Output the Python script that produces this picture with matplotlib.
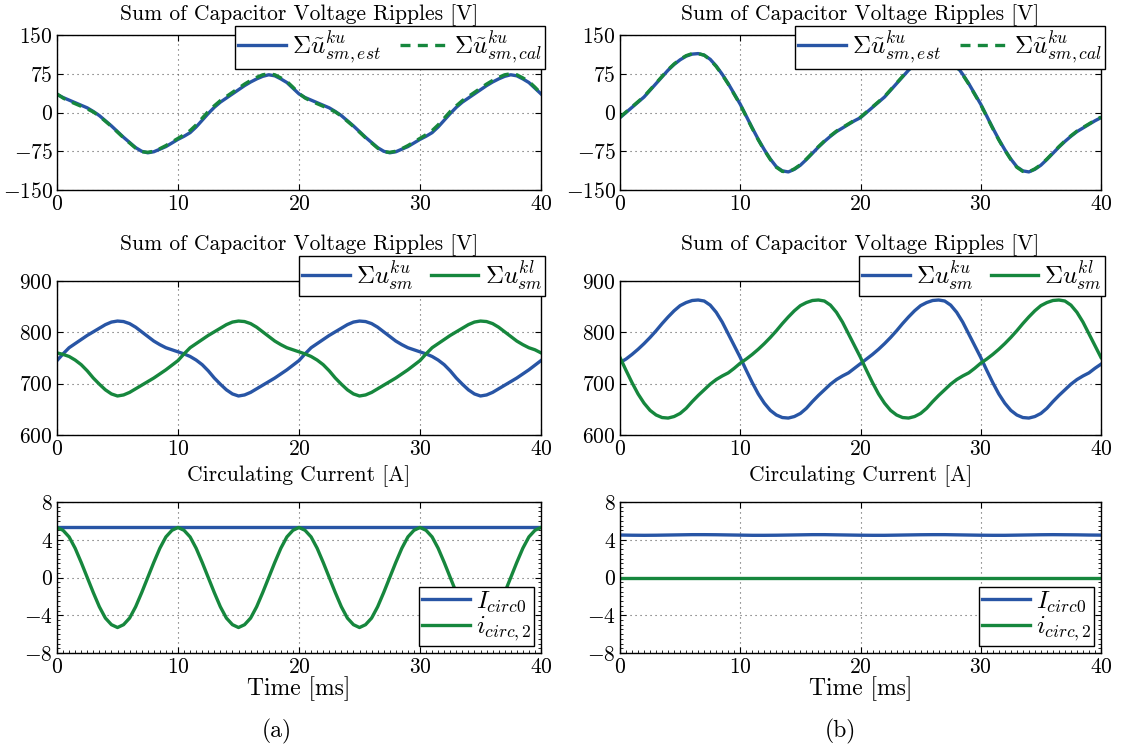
import matplotlib
matplotlib.use('Agg')
import matplotlib.pyplot as plt
from matplotlib.ticker import MultipleLocator

plt.rcParams.update({
    'font.family': 'cmr10',
    'mathtext.fontset': 'cm',
    'axes.formatter.use_mathtext': True,
    'font.size': 15,
})

# ---------------- data ----------------
t_ms = list(range(0, 41))                       # 1 ms steps
t_half = [i * 0.5 for i in range(0, 81)]        # 0.5 ms steps

x_ticks = [0, 10, 20, 30, 40]
ripple_ticks = [-150, -75, 0, 75, 150]
voltage_ticks = [600, 700, 800, 900]
current_ticks = [-8, -4, 0, 4, 8]

# (a) top: sum of capacitor voltage ripples [V], 0.5 ms steps
a_ripple_est = [35, 29, 24, 19, 14, 9, 2, -6, -16, -26, -37, -48, -58, -68, -75, -78, -76, -71, -66, -59,
                -52, -46, -39, -28, -15, -2, 10, 20, 28, 36, 44, 52, 59, 65, 70, 73, 71, 65, 58, 47,
                36, 29, 24, 19, 14, 9, 2, -6, -16, -26, -37, -48, -58, -68, -75, -78, -76, -71, -66, -59,
                -52, -46, -39, -28, -15, -2, 10, 20, 28, 36, 44, 52, 59, 65, 70, 73, 71, 65, 58, 47, 36]
a_ripple_cal = [36, 28, 22, 17, 12, 7, 1, -7, -17, -27, -38, -49, -59, -69, -76, -77, -75, -70, -64, -57,
                -50, -43, -35, -24, -11, 2, 13, 23, 31, 39, 47, 55, 62, 68, 73, 75, 73, 67, 60, 49,
                37, 28, 22, 17, 12, 7, 1, -7, -17, -27, -38, -49, -59, -69, -76, -77, -75, -70, -64, -57,
                -50, -43, -35, -24, -11, 2, 13, 23, 31, 39, 47, 55, 62, 68, 73, 75, 73, 67, 60, 49, 37]
# (b) top
b_ripple_est = [-10, 0, 10, 20, 30, 43, 56, 69, 82, 93, 102, 109, 113, 114, 111, 103, 90, 74, 56, 36,
                16, -7, -30, -52, -72, -90, -105, -113, -115, -110, -102, -91, -79, -67, -56, -46, -37, -30, -23, -16,
                -10, 0, 10, 20, 30, 43, 56, 69, 82, 93, 102, 109, 113, 114, 111, 103, 90, 74, 56, 36,
                16, -7, -30, -52, -72, -90, -105, -113, -115, -110, -102, -91, -79, -67, -56, -46, -37, -30, -23, -16, -10]
b_ripple_cal = [-9, 1, 11, 21, 31, 44, 57, 70, 83, 94, 103, 110, 114, 114, 111, 102, 89, 73, 55, 35,
                15, -8, -31, -53, -73, -91, -106, -114, -115, -109, -101, -90, -78, -66, -55, -45, -36, -29, -22, -15,
                -9, 1, 11, 21, 31, 44, 57, 70, 83, 94, 103, 110, 114, 114, 111, 102, 89, 73, 55, 35,
                15, -8, -31, -53, -73, -91, -106, -114, -115, -109, -101, -90, -78, -66, -55, -45, -36, -29, -22, -15, -9]

# (a) middle: upper / lower arm capacitor voltage sums [V], 0.5 ms steps
a_u_ku = [745, 758, 770, 778, 786, 794, 801, 808, 815, 820, 822, 821, 817, 810, 801, 792, 783, 776, 770, 766,
          762, 758, 753, 746, 737, 725, 711, 699, 688, 680, 676, 678, 683, 690, 697, 704, 711, 719, 727, 736,
          745, 758, 770, 778, 786, 794, 801, 808, 815, 820, 822, 821, 817, 810, 801, 792, 783, 776, 770, 766,
          762, 758, 753, 746, 737, 725, 711, 699, 688, 680, 676, 678, 683, 690, 697, 704, 711, 719, 727, 736, 745]
a_u_kl = [760, 757, 753, 746, 737, 725, 711, 699, 688, 680, 676, 678, 683, 690, 697, 704, 711, 719, 727, 736,
          745, 758, 770, 778, 786, 794, 801, 808, 815, 820, 822, 821, 817, 810, 801, 792, 783, 776, 770, 766,
          762, 758, 753, 746, 737, 725, 711, 699, 688, 680, 676, 678, 683, 690, 697, 704, 711, 719, 727, 736,
          745, 758, 770, 778, 786, 794, 801, 808, 815, 820, 822, 821, 817, 810, 801, 792, 783, 776, 770, 766, 760]
# (b) middle
b_u_ku = [741, 748, 757, 767, 778, 790, 803, 817, 830, 842, 852, 858, 862, 863, 861, 853, 839, 820, 797, 774,
          751, 726, 702, 680, 662, 648, 639, 634, 633, 636, 642, 652, 665, 677, 688, 699, 708, 715, 721, 730,
          739, 748, 757, 767, 778, 790, 803, 817, 830, 842, 852, 858, 862, 863, 861, 853, 839, 820, 797, 774,
          751, 726, 702, 680, 662, 648, 639, 634, 633, 636, 642, 652, 665, 677, 688, 699, 708, 715, 721, 730, 738]
b_u_kl = [751, 726, 702, 680, 662, 648, 639, 634, 633, 636, 642, 652, 665, 677, 688, 699, 708, 715, 721, 730,
          740, 748, 757, 767, 778, 790, 803, 817, 830, 842, 852, 858, 862, 863, 861, 853, 839, 820, 797, 774,
          751, 726, 702, 680, 662, 648, 639, 634, 633, 636, 642, 652, 665, 677, 688, 699, 708, 715, 721, 730,
          740, 748, 757, 767, 778, 790, 803, 817, 830, 842, 852, 858, 862, 863, 861, 853, 839, 820, 797, 774, 751]

# (a) bottom: circulating current [A]
a_i_circ0 = [5.3] * 41
a_i_circ2 = [5.3, 5.0, 4.3, 3.1, 1.6, 0.0, -1.6, -3.1, -4.3, -5.0, -5.3, -5.0, -4.3, -3.1, -1.6, 0.0, 1.6, 3.1, 4.3, 5.0,
             5.3, 5.0, 4.3, 3.1, 1.6, 0.0, -1.6, -3.1, -4.3, -5.0, -5.3, -5.0, -4.3, -3.1, -1.6, 0.0, 1.6, 3.1, 4.3, 5.0,
             5.3, 5.0, 4.3, 3.1, 1.6, 0.0, -1.6, -3.1, -4.3, -5.0, -5.3, -5.0, -4.3, -3.1, -1.6, 0.0, 1.6, 3.1, 4.3, 5.0,
             5.3, 5.0, 4.3, 3.1, 1.6, 0.0, -1.6, -3.1, -4.3, -5.0, -5.3, -5.0, -4.3, -3.1, -1.6, 0.0, 1.6, 3.1, 4.3, 5.0,
             5.3]
# (b) bottom
b_i_circ0 = [4.50, 4.48, 4.47, 4.48, 4.50, 4.52, 4.54, 4.54, 4.53, 4.51, 4.49, 4.47, 4.47, 4.48, 4.50, 4.52, 4.54, 4.54,
             4.52, 4.50, 4.48, 4.47, 4.47, 4.49, 4.51, 4.53, 4.54, 4.54, 4.52, 4.50, 4.48, 4.47, 4.47, 4.49, 4.51, 4.53,
             4.54, 4.53, 4.52, 4.50, 4.49]
b_i_circ2 = [-0.05] * 41

BLUE = '#2855a5'
GREEN = '#16873d'
LW = 2.4

fig = plt.figure(figsize=(11.27, 7.51), dpi=100)
W, H = 1127, 751


def add_axes(x0, x1, y0, y1):
    return fig.add_axes([x0 / W, 1 - y1 / H, (x1 - x0) / W, (y1 - y0) / H])


def mlab(v):
    return f'${v}$'


def style(ax, yticks, ylim, minor=False):
    ax.set_xlim(0, 40)
    ax.set_ylim(*ylim)
    ax.set_xticks(x_ticks)
    ax.set_xticklabels([mlab(v) for v in x_ticks])
    ax.set_yticks(yticks)
    ax.set_yticklabels([mlab(v) for v in yticks])
    ax.grid(True, linestyle=(0, (1, 3.5)), color='0.35', linewidth=0.8)
    ax.tick_params(direction='in', top=True, right=True, length=4, width=0.8,
                   labelsize=15.5, pad=3, colors='black')
    if minor:
        ax.xaxis.set_minor_locator(MultipleLocator(0.5))
        ax.yaxis.set_minor_locator(MultipleLocator(0.5))
        ax.tick_params(which='minor', direction='in', top=False, right=True, length=2, width=0.6)
    for s in ax.spines.values():
        s.set_linewidth(1.0)
        s.set_color('black')


cols = [(57, 541), (620, 1101)]
rows = [(35, 190), (281, 435), (502, 653)]

axes = [[add_axes(cx0, cx1, ry0, ry1) for (cx0, cx1) in cols] for (ry0, ry1) in rows]

title_ripple = 'Sum of Capacitor Voltage Ripples [V]'
title_curr = 'Circulating Current [A]'

leg_kw = dict(fontsize=18, frameon=True, fancybox=False, framealpha=1, edgecolor='black',
              handlelength=1.9, handletextpad=0.25, borderpad=0.12, labelspacing=0.0,
              borderaxespad=0)

# Row 1
for ax, est, cal in [(axes[0][0], a_ripple_est, a_ripple_cal), (axes[0][1], b_ripple_est, b_ripple_cal)]:
    ax.plot(t_half, est, color=BLUE, lw=LW, label=r'$\Sigma\tilde{u}^{ku}_{sm,est}$')
    ax.plot(t_half, cal, color=GREEN, lw=LW, ls=(0, (3, 2.2)), label=r'$\Sigma\tilde{u}^{ku}_{sm,cal}$')
    style(ax, ripple_ticks, (-150, 150))
    ax.set_title(title_ripple, fontsize=15.5, pad=11)
    lg = ax.legend(loc='upper right', bbox_to_anchor=(1.008, 1.058), ncol=2, columnspacing=0.75, **leg_kw)
    lg.get_frame().set_linewidth(1.0)
    lg.set_zorder(5)

# Row 2
for ax, ku, kl in [(axes[1][0], a_u_ku, a_u_kl), (axes[1][1], b_u_ku, b_u_kl)]:
    ax.plot(t_half, ku, color=BLUE, lw=LW, label=r'$\Sigma u^{ku}_{sm}$')
    ax.plot(t_half, kl, color=GREEN, lw=LW, label=r'$\Sigma u^{kl}_{sm}$')
    style(ax, voltage_ticks, (600, 900))
    ax.set_title(title_ripple, fontsize=15.5, pad=22)
    lg = ax.legend(loc='upper right', bbox_to_anchor=(1.008, 1.16), ncol=2, columnspacing=0.7, **leg_kw)
    lg.get_frame().set_linewidth(1.0)
    lg.set_zorder(5)

# Row 3
for ax, c0, c2 in [(axes[2][0], a_i_circ0, None), (axes[2][1], b_i_circ0, b_i_circ2)]:
    ax.plot(t_ms, c0, color=BLUE, lw=LW, label=r'$I_{circ0}$')
    if c2 is None:
        ax.plot(t_half, a_i_circ2, color=GREEN, lw=LW, label=r'$i_{circ,2}$')
    else:
        ax.plot(t_ms, c2, color=GREEN, lw=LW, label=r'$i_{circ,2}$')
    style(ax, current_ticks, (-8, 8), minor=True)
    ax.set_title(title_curr, fontsize=15.5, pad=15)
    ax.set_xlabel('Time [ms]', fontsize=17, labelpad=0)
    lg = ax.legend(loc='lower right', bbox_to_anchor=(0.986, 0.046), ncol=1, **leg_kw)
    lg.get_frame().set_linewidth(1.0)
    lg.set_zorder(5)

fig.text(277 / W, 1 - 731 / H, '(a)', ha='center', va='center', fontsize=17)
fig.text(840 / W, 1 - 731 / H, '(b)', ha='center', va='center', fontsize=17)

fig.savefig('out.png', dpi=100)
